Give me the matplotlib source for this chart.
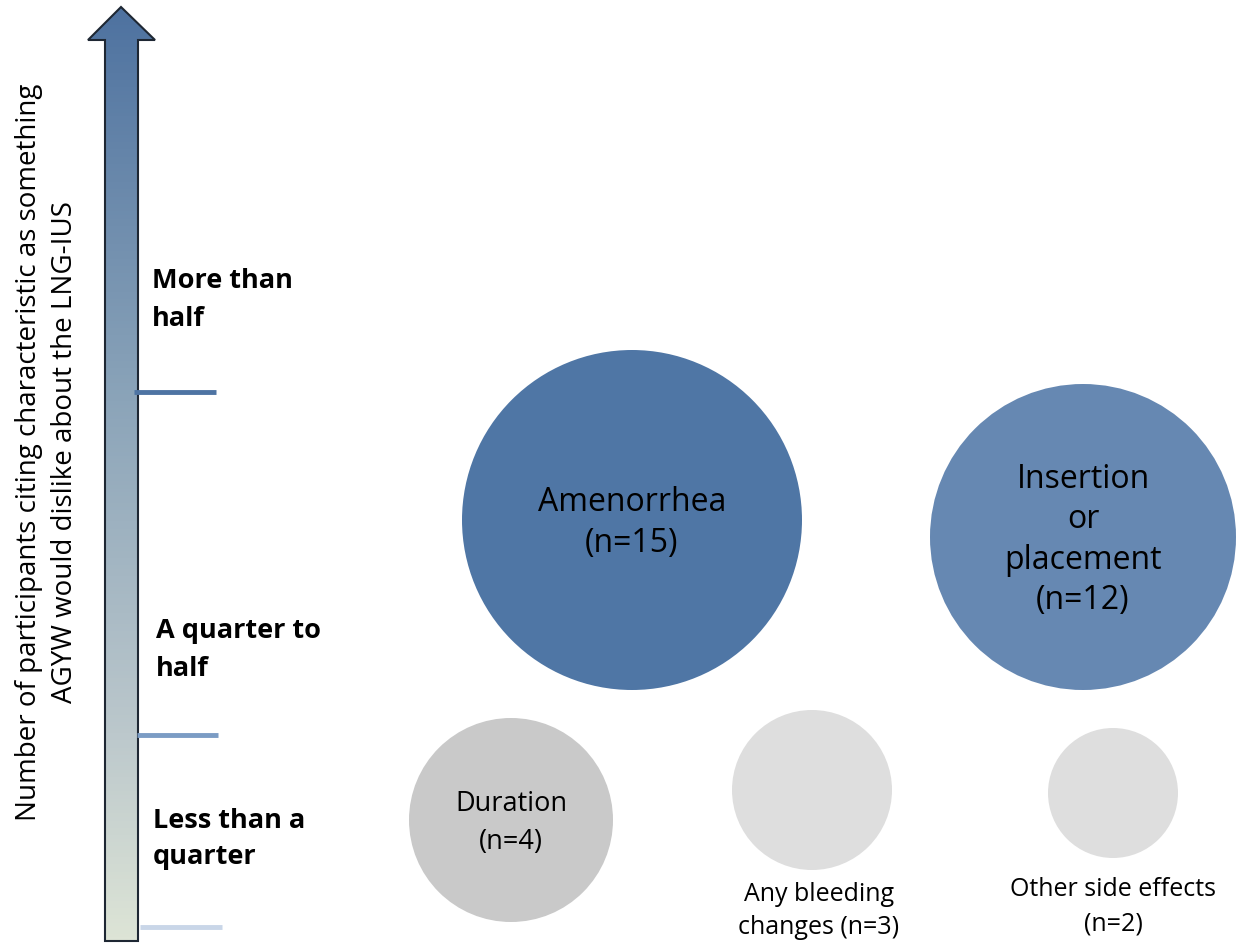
import numpy as np
import matplotlib.pyplot as plt
from matplotlib.patches import Polygon, Circle
from matplotlib.colors import LinearSegmentedColormap

plt.rcParams["font.family"] = ["Open Sans", "DejaVu Sans"]

# Data
labels = ["Amenorrhea\n(n={})", "Insertion\nor\nplacement\n(n={})",
          "Duration\n(n={})", "Any bleeding\nchanges (n={})",
          "Other side effects\n(n={})"]
counts = [15, 12, 4, 3, 2]
colors = ["#4F76A5", "#6688B2", "#C9C9C9", "#DEDEDE", "#DEDEDE"]
levels = ["More than\nhalf", "A quarter to\nhalf", "Less than a\nquarter"]
axis_title = ("Number of participants citing characteristic as something\n"
              "AGYW would dislike about the LNG-IUS")

# Layout (pixel coords, y down)
centers = [(632, 520), (1083, 537), (511, 820), (812, 790), (1113, 793)]
radii = [170, 153, 102, 80, 65]
text_pos = [(632, 523), (1083, 540), (511, 823), (819, 911), (1113, 907)]
text_size = [23, 23, 19.5, 18, 18]
text_spacing = [1.3, 1.3, 1.45, 1.45, 1.5]
level_pos = [(152, 300), (156, 650), (153, 839)]
tick_pos = [(134, 216, 392, "#4E74A3"), (137, 218, 735, "#7B9CC4"),
            (140, 222, 927, "#C9D6E8")]

fig = plt.figure(figsize=(12.36, 9.43), dpi=100)
ax = fig.add_axes([0, 0, 1, 1])
ax.set_xlim(0, 1236)
ax.set_ylim(943, 0)
ax.axis("off")

# gradient arrow
arrow = Polygon([(105, 941), (105, 40), (88, 40), (121, 7), (155, 40),
                 (138, 40), (138, 941)], closed=True, facecolor="none",
                edgecolor="#1E2733", linewidth=1.5, zorder=3)
ax.add_patch(arrow)
cmap = LinearSegmentedColormap.from_list(
    "arr", [(0, "#4E72A0"), (0.42, "#8BA4B9"), (0.78, "#BCC8CC"), (1, "#DDE4D6")])
grad = np.linspace(0, 1, 256).reshape(-1, 1)
im = ax.imshow(grad, cmap=cmap, extent=(88, 155, 941, 7), aspect="auto",
               zorder=2)
im.set_clip_path(arrow)

for x0, x1, y, c in tick_pos:
    ax.plot([x0, x1], [y, y], color=c, linewidth=3.5, solid_capstyle="butt",
            zorder=4)

for (x, y), t in zip(level_pos, levels):
    ax.text(x, y, t, fontsize=19.5, fontweight="bold", ha="left", va="center",
            linespacing=1.55, color="black")

ax.text(47, 452, axis_title, rotation=90, fontsize=20, ha="center",
        va="center", linespacing=1.4, color="black")

for lab, n, c, (x, y), r, (tx, ty), fs, ls in zip(
        labels, counts, colors, centers, radii, text_pos, text_size,
        text_spacing):
    ax.add_patch(Circle((x, y), r, facecolor=c, edgecolor="none", zorder=2))
    ax.text(tx, ty, lab.format(n), fontsize=fs, ha="center", va="center",
            linespacing=ls, color="black", zorder=5)

fig.savefig("out.png", dpi=100)
